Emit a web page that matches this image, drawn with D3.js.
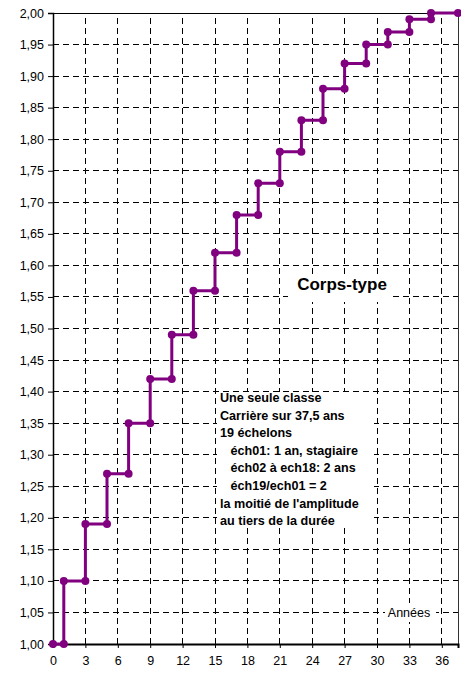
<!DOCTYPE html>
<html><head><meta charset="utf-8">
<script src="https://cdn.jsdelivr.net/npm/d3@7"></script>
<style>body{margin:0;background:#fff}svg{display:block;font-family:"Liberation Sans",Arial,sans-serif}</style>
</head><body>
<svg id="c" width="461" height="674"></svg>
<script>
// step points (years, index ratio)
const years  = [0,1,1,3,3,5,5,7,7,9,9,11,11,13,13,15,15,17,17,19,19,21,21,23,23,25,25,27,27,29,29,31,31,33,33,35,35,37.5];
const ratios = [1.00,1.00,1.10,1.10,1.19,1.19,1.27,1.27,1.35,1.35,1.42,1.42,1.49,1.49,1.56,1.56,1.62,1.62,1.68,1.68,1.73,1.73,1.78,1.78,1.83,1.83,1.88,1.88,1.92,1.92,1.95,1.95,1.97,1.97,1.99,1.99,2.00,2.00];
const xTicks = [0,3,6,9,12,15,18,21,24,27,30,33,36];
const yTicks = [1.00,1.05,1.10,1.15,1.20,1.25,1.30,1.35,1.40,1.45,1.50,1.55,1.60,1.65,1.70,1.75,1.80,1.85,1.90,1.95,2.00];
const title = "Corps-type";
const xLabel = "Années";
const notes = ["Une seule classe","Carrière sur 37,5 ans","19 échelons","   éch01: 1 an, stagiaire","   éch02 à ech18: 2 ans","   éch19/ech01 = 2","la moitié de l'amplitude","au tiers de la durée"];

const svg = d3.select("#c");
const L=53, R=458, T=13, B=644;
const x = d3.scaleLinear().domain([0,37.5]).range([L,R]);
const y = d3.scaleLinear().domain([1,2]).range([B,T]);
const fmt = d => d.toFixed(2).replace(".",",");

// grid
const g = svg.append("g");
g.selectAll("line.h").data(yTicks.filter(d=>d>1&&d<2)).join("line")
 .attr("x1",L).attr("x2",R).attr("y1",d=>y(d)).attr("y2",d=>y(d))
 .attr("stroke","#000").attr("stroke-width",1).attr("stroke-dasharray","6,4").attr("shape-rendering","crispEdges");
g.selectAll("line.v").data(xTicks.filter(d=>d>0)).join("line")
 .attr("x1",d=>x(d)).attr("x2",d=>x(d)).attr("y1",B).attr("y2",T)
 .attr("stroke","#000").attr("stroke-width",1).attr("stroke-dasharray","6,4").attr("shape-rendering","crispEdges");

// frame top/right
svg.append("line").attr("x1",L).attr("x2",R).attr("y1",T).attr("y2",T).attr("stroke","#000").attr("shape-rendering","crispEdges");
svg.append("line").attr("x1",R).attr("x2",R).attr("y1",T).attr("y2",B).attr("stroke","#333").attr("shape-rendering","crispEdges");

// axes
const ya = svg.append("g").attr("transform",`translate(${L},0)`)
 .call(d3.axisLeft(y).tickValues(yTicks).tickFormat(fmt).tickSize(5).tickPadding(4));
const xa = svg.append("g").attr("transform",`translate(0,${B})`)
 .call(d3.axisBottom(x).tickValues(xTicks).tickFormat(d=>d).tickSize(4).tickPadding(8));
[ya,xa].forEach(a=>{a.selectAll("text").attr("font-size",12.5).attr("fill","#000").attr("font-family","Liberation Sans, Arial, sans-serif");
 a.selectAll("line").attr("stroke","#000");});
ya.select(".domain").attr("stroke","#000").attr("stroke-width",1.5);
xa.select(".domain").attr("stroke","#000").attr("stroke-width",2);

// boxes with white backgrounds
function box(x0,y0,w,h){svg.append("rect").attr("x",x0).attr("y",y0).attr("width",w).attr("height",h).attr("fill","#fff");}
box(288,274,104,28);
box(217,392,157,135);
box(385,603,51,19);

// line
const pts = years.map((d,i)=>[d,ratios[i]]);
svg.append("path").datum(pts).attr("fill","none").attr("stroke","#800080").attr("stroke-width",3)
 .attr("d",d3.line().x(d=>x(d[0])).y(d=>y(d[1])));
svg.selectAll("circle.m").data(pts).join("circle").attr("cx",d=>x(d[0])).attr("cy",d=>y(d[1])).attr("r",4).attr("fill","#800080");

// texts
svg.append("text").attr("x",342).attr("y",290).attr("text-anchor","middle").attr("font-size",17).attr("font-weight","bold").text(title);
svg.append("text").attr("x",409).attr("y",617).attr("text-anchor","middle").attr("font-size",12.5).text(xLabel);
svg.append("text").attr("font-size",12.6).attr("font-weight","bold").attr("xml:space","preserve")
 .selectAll("tspan").data(notes).join("tspan").attr("x",220).attr("y",(d,i)=>402+i*17.6).style("white-space","pre").text(d=>d);
</script>
</body></html>
